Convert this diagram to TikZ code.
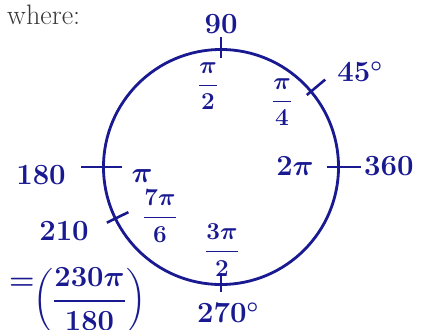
\documentclass[tikz,border=0pt]{standalone}
\usepackage{amsmath,amssymb}
\usepackage{xcolor}
\usepackage{tikz}
\usetikzlibrary{positioning,calc}
\definecolor{penblue}{RGB}{25,25,145}
\definecolor{printgray}{RGB}{55,55,55}
\tikzset{
  lbl/.style={text=penblue, font=\fontsize{25}{27}\selectfont\bfseries\boldmath, inner sep=0pt},
  fraclbl/.style={text=penblue, font=\fontsize{21}{23}\selectfont\bfseries\boldmath, inner sep=0pt},
  tick/.style={draw=penblue, line width=2.2pt},
  ring/.style={draw=penblue, line width=2.4pt},
}

\begin{document}
\begin{tikzpicture}[x=0.03cm, y=-0.03cm]
  \useasboundingbox (0,0) rectangle (425,329);
  \node[font=\fontsize{24}{26}\selectfont, text=printgray, anchor=west, inner sep=0pt] (where) at (7,15) {where:};
  % unit circle and ticks
  \coordinate (o) at (221,167);
  \draw[ring] (o) circle (3.525cm);
  \foreach \a/\r/\R in {90/3.27/3.9, 40/3.36/4.08, 0/3.18/4.2, 180/2.97/4.2, 206/3.09/3.81, 270/3.18/3.75}
    \draw[tick] ([shift={(\a:\r cm)}]o) -- ([shift={(\a:\R cm)}]o);
  % degrees outside
  \node[lbl] (d90) at (221,24) {90};
  \node[lbl] (d45) at (360,72) {45$^\circ$};
  \node[lbl, anchor=west] (d360) at (364,166) {360};
  \node[lbl] (d180) at (41,175) {180};
  \node[lbl] (d210) at (64,231) {210};
  \node[lbl] (d270) at (228,313) {270$^\circ$};
  % radians inside
  \node[fraclbl] (rhalf) at (208,86) {$\dfrac{\pi}{2}$};
  \node[fraclbl] (rquarter) at (282,102) {$\dfrac{\pi}{4}$};
  \node[lbl] (rtwo) at (295,166) {$2\pi$};
  \node[lbl] (rpi) at (142,176) {$\pi$};
  \node[fraclbl] (rseven) at (160,216) {$\dfrac{7\pi}{6}$};
  \node[fraclbl] (rthree) at (222,250) {$\dfrac{3\pi}{2}$};
  % conversion
  \node[lbl] (eq) at (22,284) {$=$};
  \node[lbl, font=\fontsize{23}{25}\selectfont\bfseries\boldmath, anchor=west] (conv) at (33,301) {$\biggl(\dfrac{230\pi}{180}\biggr)$};
\end{tikzpicture}
\end{document}
